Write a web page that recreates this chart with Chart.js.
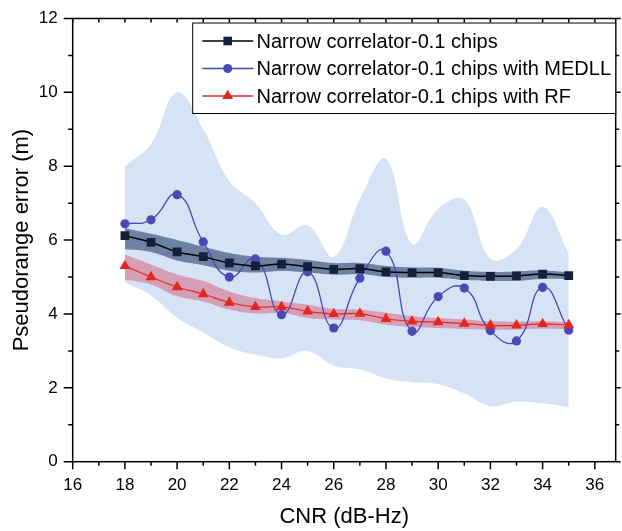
<!DOCTYPE html>
<html>
<head>
<meta charset="utf-8">
<script src="https://cdn.jsdelivr.net/npm/chart.js@4.4.1/dist/chart.umd.min.js"></script>
<style>
    html, body { margin: 0; padding: 0; background: #fff; }
</style>
</head>
<body>
<canvas id="graficoCNR" width="622" height="531"></canvas>
<script>
// CNR (dB-Hz)
const cnr = [18, 19, 20, 21, 22, 23, 24, 25, 26, 27, 28, 29, 30, 31, 32, 33, 34, 35];

// Narrow correlator-0.1 chips
const narrow      = [6.12, 5.94, 5.68, 5.55, 5.38, 5.30, 5.35, 5.28, 5.21, 5.23, 5.14, 5.12, 5.12, 5.04, 5.02, 5.03, 5.08, 5.04];
const narrowUpper = [6.32, 6.17, 6.00, 5.82, 5.65, 5.55, 5.52, 5.46, 5.38, 5.38, 5.30, 5.26, 5.25, 5.17, 5.14, 5.15, 5.18, 5.13];
const narrowLower = [5.75, 5.68, 5.45, 5.32, 5.17, 5.12, 5.16, 5.12, 5.06, 5.08, 5.00, 4.98, 4.98, 4.92, 4.90, 4.90, 4.95, 4.94];

// ... with MEDLL
const medll      = [6.44, 6.55, 7.23, 5.95, 5.00, 5.49, 3.98, 5.14, 3.62, 4.97, 5.70, 3.53, 4.47, 4.70, 3.55, 3.27, 4.72, 3.56];
const medllUpper = [8.00, 8.60, 10.0, 9.00, 7.60, 7.00, 6.15, 6.40, 5.55, 7.10, 8.20, 5.90, 6.85, 7.10, 5.50, 5.75, 6.90, 5.65];
const medllLower = [4.85, 4.50, 3.90, 3.50, 3.10, 2.90, 2.80, 3.00, 2.60, 2.50, 2.25, 2.15, 2.10, 1.85, 1.50, 1.62, 1.58, 1.48];

// ... with RF
const rf      = [5.30, 5.00, 4.73, 4.54, 4.31, 4.19, 4.19, 4.07, 4.00, 4.01, 3.87, 3.80, 3.78, 3.74, 3.69, 3.69, 3.73, 3.70];
const rfUpper = [5.61, 5.34, 5.07, 4.89, 4.61, 4.43, 4.34, 4.25, 4.14, 4.12, 4.03, 3.94, 3.89, 3.85, 3.80, 3.79, 3.80, 3.77];
const rfLower = [4.93, 4.80, 4.48, 4.34, 4.12, 4.01, 4.03, 3.89, 3.85, 3.83, 3.71, 3.65, 3.62, 3.59, 3.57, 3.58, 3.60, 3.59];

// etiquetas de los ejes
const xTickLabels = [16, 18, 20, 22, 24, 26, 28, 30, 32, 34, 36];
const yTickLabels = [0, 2, 4, 6, 8, 10, 12];

const FUENTE = "'Liberation Sans', Arial, sans-serif";

const puntos = arr => cnr.map((x, i) => ({ x: x, y: arr[i] }));

function banda(arr, color, orden, relleno) {
    return {
        data: puntos(arr),
        borderWidth: 0,
        pointRadius: 0,
        tension: 0.4,
        backgroundColor: color,
        fill: relleno,
        order: orden,
        enLeyenda: false
    };
}

// marco y marcas de los ejes (mayores y menores)
const marco = {
    id: 'marco',
    afterDraw(chart) {
        const ctx = chart.ctx;
        const a = chart.chartArea;
        const sx = chart.scales.x, sy = chart.scales.y;
        ctx.save();
        ctx.strokeStyle = '#000';
        ctx.lineWidth = 1.5;
        ctx.beginPath();
        for (let v = 16; v <= 36; v++) {
            const px = sx.getPixelForValue(v);
            const largo = v % 2 === 0 ? 7.5 : 4;
            ctx.moveTo(px, a.bottom); ctx.lineTo(px, a.bottom + largo);
            ctx.moveTo(px, a.top); ctx.lineTo(px, a.top + 4);
        }
        for (let v = 0; v <= 12; v++) {
            const py = sy.getPixelForValue(v);
            const largo = v % 2 === 0 ? 9 : 4.5;
            ctx.moveTo(a.left, py); ctx.lineTo(a.left - largo, py);
            ctx.moveTo(a.right, py); ctx.lineTo(a.right + (v % 2 === 0 ? 5 : 3.5), py);
        }
        ctx.stroke();
        ctx.strokeRect(a.left, a.top, a.right - a.left, a.bottom - a.top);
        ctx.restore();
    }
};

function dibujarMarcador(ctx, tipo, x, y, color) {
    ctx.fillStyle = color;
    ctx.beginPath();
    if (tipo === 'rect') {
        ctx.rect(x - 4.3, y - 4.3, 8.6, 8.6);
    } else if (tipo === 'circle') {
        ctx.arc(x, y, 4.6, 0, Math.PI * 2);
    } else {
        ctx.moveTo(x, y - 6.2);
        ctx.lineTo(x + 5.4, y + 3.1);
        ctx.lineTo(x - 5.4, y + 3.1);
        ctx.closePath();
    }
    ctx.fill();
}

const leyenda = {
    id: 'leyenda',
    afterDraw(chart) {
        const ctx = chart.ctx;
        const a = chart.chartArea;
        const izq = 192.7, arriba = a.top + 4.5, abajo = a.top + 95;
        ctx.save();
        ctx.fillStyle = '#fff';
        ctx.fillRect(izq, arriba, a.right - izq, abajo - arriba);
        ctx.strokeStyle = '#000';
        ctx.lineWidth = 1;
        ctx.strokeRect(izq, arriba, a.right - izq, abajo - arriba);
        const items = chart.data.datasets.filter(d => d.enLeyenda);
        items.forEach((d, i) => {
            const y = a.top + 22.5 + i * 27.5;
            ctx.strokeStyle = d.borderColor;
            ctx.lineWidth = 1.3;
            ctx.beginPath();
            ctx.moveTo(202.3, y);
            ctx.lineTo(253.3, y);
            ctx.stroke();
            dibujarMarcador(ctx, d.pointStyle, 227.7, y, d.pointBackgroundColor);
            ctx.fillStyle = '#000';
            ctx.font = '20px ' + FUENTE;
            ctx.textBaseline = 'middle';
            ctx.textAlign = 'left';
            ctx.fillText(d.label, 256.5, y + 1);
        });
        ctx.restore();
    }
};

const ctx = document.getElementById('graficoCNR').getContext('2d');

new Chart(ctx, {
    type: 'line',
    data: {
        datasets: [
            {
                label: 'Narrow correlator-0.1 chips',
                data: puntos(narrow),
                borderColor: '#000',
                borderWidth: 1.5,
                pointStyle: 'rect',
                pointRadius: 6.2,
                pointBackgroundColor: '#14203a',
                pointBorderWidth: 0,
                tension: 0.4,
                fill: false,
                order: 2,
                enLeyenda: true
            },
            {
                label: 'Narrow correlator-0.1 chips with MEDLL',
                data: puntos(medll),
                borderColor: '#4a4ab4',
                borderWidth: 1.3,
                pointStyle: 'circle',
                pointRadius: 4.6,
                pointBackgroundColor: '#4a4ab4',
                pointBorderWidth: 0,
                tension: 0.5,
                fill: false,
                order: 3,
                enLeyenda: true
            },
            {
                label: 'Narrow correlator-0.1 chips with RF',
                data: puntos(rf),
                borderColor: '#e2281e',
                borderWidth: 1.2,
                pointStyle: 'triangle',
                pointRadius: 6.3,
                pointBackgroundColor: '#e2281e',
                pointBorderWidth: 0,
                tension: 0.4,
                fill: false,
                order: 1,
                enLeyenda: true
            },
            banda(medllUpper, 'rgb(214,227,245)', 9, '+1'),
            banda(medllLower, 'rgba(0,0,0,0)', 9, false),
            banda(narrowUpper, 'rgba(45,70,112,0.62)', 8, '+1'),
            banda(narrowLower, 'rgba(0,0,0,0)', 8, false),
            banda(rfUpper, 'rgba(212,62,92,0.42)', 7, '+1'),
            banda(rfLower, 'rgba(0,0,0,0)', 7, false)
        ]
    },
    options: {
        responsive: false,
        animation: false,
        devicePixelRatio: 1,
        layout: { padding: { top: 18.5, right: 4.7, left: 0, bottom: 0 } },
        plugins: {
            legend: { display: false },
            tooltip: { enabled: false }
        },
        scales: {
            x: {
                type: 'linear',
                min: 16,
                max: 36.8,
                afterBuildTicks: s => { s.ticks = xTickLabels.map(v => ({ value: v })); },
                afterFit: s => { s.height = 69.3; },
                ticks: { color: '#000', font: { family: FUENTE, size: 17 }, padding: 3, maxRotation: 0 },
                grid: { display: false, drawTicks: true, tickLength: 10 },
                border: { display: false },
                title: {
                    display: true,
                    text: 'CNR (dB-Hz)',
                    color: '#000',
                    font: { family: FUENTE, size: 22 },
                    padding: { top: 0, bottom: 1 }
                }
            },
            y: {
                min: 0,
                max: 12,
                afterBuildTicks: s => { s.ticks = yTickLabels.map(v => ({ value: v })); },
                afterFit: s => { s.width = 72.7; },
                ticks: { color: '#000', font: { family: FUENTE, size: 17 }, padding: 4 },
                grid: { display: false, drawTicks: true, tickLength: 11 },
                border: { display: false },
                title: {
                    display: true,
                    text: 'Pseudorange error (m)',
                    color: '#000',
                    font: { family: FUENTE, size: 22 },
                    padding: { top: 9, bottom: 0 }
                }
            }
        }
    },
    plugins: [marco, leyenda]
});
</script>
</body>
</html>
